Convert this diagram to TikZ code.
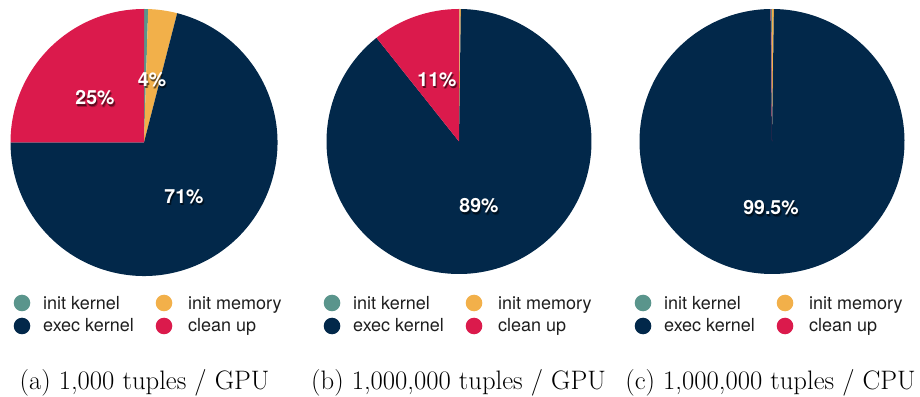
\documentclass[tikz,border=0pt]{standalone}
\usepackage{fontspec}
\setsansfont{TeX Gyre Heros}
\definecolor{cinit}{HTML}{5A958C}
\definecolor{cmem}{HTML}{F2B04A}
\definecolor{cexec}{HTML}{02284A}
\definecolor{cclean}{HTML}{DB1A4C}
\definecolor{legtext}{HTML}{1E1E1E}
% one wedge: centre, radius, start angle, end angle, colour
\newcommand\pieslice[5]{\fill[#5] (#1) -- ++(#3:#2) arc[start angle=#3, end angle=#4, radius=#2] -- cycle;}
% white percentage with a soft drop shadow
\newcommand\pct[3]{%
  \node[pctshadow, opacity=0.25] at ([shift={(1.6,-2.2)}]#1) {#3};
  \node[pctshadow, opacity=0.45] at ([shift={(0.9,-1.3)}]#1) {#3};
  \node[pcttext] (#2) at (#1) {#3};}
\tikzset{
  pcttext/.style={text=white, inner sep=0pt, font=\sffamily\bfseries\fontsize{19.5}{20}\selectfont},
  pctshadow/.style={text=black, inner sep=0pt, font=\sffamily\bfseries\fontsize{19.5}{20}\selectfont},
  legdot/.style={circle, inner sep=0pt, minimum size=16.6pt},
  legtxt/.style={anchor=base west, inner sep=0pt, text=legtext, font=\sffamily\fontsize{18}{20}\selectfont},
  captxt/.style={anchor=base, inner sep=0pt, font=\fontsize{26.7}{30}\selectfont},
}
\begin{document}
\begin{tikzpicture}[x=1pt,y=1pt]
\useasboundingbox (0,0) rectangle (920,396);

% ---- (a) 1,000 tuples / GPU
\coordinate (ca) at (144,253.5);
\pieslice{ca}{133.5}{90}{88.2}{cinit}
\pieslice{ca}{133.5}{88.2}{75.6}{cmem}
\pieslice{ca}{133.5}{75.6}{-180}{cexec}
\pieslice{ca}{133.5}{180}{90}{cclean}
\pct{152,316}{pa1}{4\%}
\pct{95,298}{pa2}{25\%}
\pct{184,199}{pa3}{71\%}

% ---- (b) 1,000,000 tuples / GPU
\coordinate (cb) at (459,254.5);
\pieslice{cb}{132.5}{90}{89.8}{cinit}
\pieslice{cb}{132.5}{89.8}{89.2}{cmem}
\pieslice{cb}{132.5}{89.2}{-231.5}{cexec}
\pieslice{cb}{132.5}{128.5}{90}{cclean}
\pct{437,316}{pb1}{11\%}
\pct{479,190}{pb2}{89\%}

% ---- (c) 1,000,000 tuples / CPU
\coordinate (cc) at (772,254.5);
\pieslice{cc}{132.5}{90.4}{89.9}{cinit}
\pieslice{cc}{132.5}{89.9}{89.2}{cmem}
\pieslice{cc}{132.5}{89.2}{-269.4}{cexec}
\pieslice{cc}{132.5}{90.6}{90.4}{cclean}
\pct{771,188}{pc1}{99.5\%}

% ---- legends
\foreach \dx/\s in {0/a,310/b,621/c}{
  \node[legdot, fill=cinit]  (li\s) at (22+\dx,93) {};
  \node[legtxt] (lti\s) at (43+\dx,86) {init kernel};
  \node[legdot, fill=cexec]  (le\s) at (22+\dx,70) {};
  \node[legtxt] (lte\s) at (43+\dx,64) {exec kernel};
  \node[legdot, fill=cmem]   (lm\s) at (164+\dx,93) {};
  \node[legtxt] (ltm\s) at (188+\dx,86) {init memory};
  \node[legdot, fill=cclean] (lc\s) at (164+\dx,70) {};
  \node[legtxt] (ltc\s) at (188+\dx,64) {clean up};
}

% ---- captions
\node[captxt] (capa) at (144.5,7) {(a) 1,000 tuples / GPU};
\node[captxt] (capb) at (458.5,7) {(b) 1,000,000 tuples / GPU};
\node[captxt] (capc) at (770.5,7) {(c) 1,000,000 tuples / CPU};
\end{tikzpicture}
\end{document}
